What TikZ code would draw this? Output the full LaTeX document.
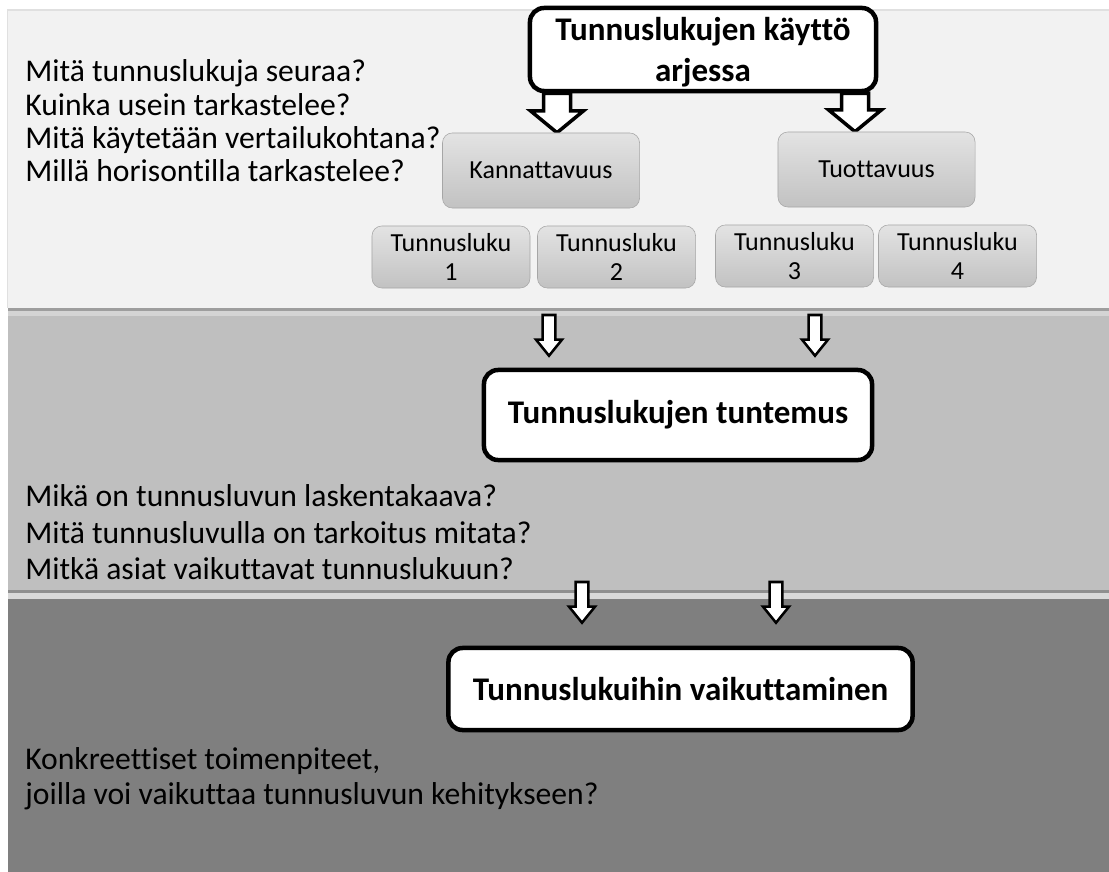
\documentclass[tikz,border=0pt]{standalone}
\usepackage{fontspec}
\setmainfont{Carlito}[Ligatures=NoCommon]
\usetikzlibrary{calc,backgrounds}
\definecolor{band1}{HTML}{F2F2F2}
\definecolor{band2}{HTML}{BFBFBF}
\definecolor{band3}{HTML}{7F7F7F}
\definecolor{bk60}{HTML}{A6A6A6}
\tikzset{
  bandrect/.style={fill=#1, draw=none},
  titlebox/.style={
    rectangle, rounded corners=10pt, draw=black, line width=3.2pt,
    fill=white, font=\fontsize{23.5}{29}\selectfont\bfseries,
    align=center, inner sep=2pt
  },
  subbox/.style={
    rectangle, rounded corners=7pt, draw=bk60, thin,
    top color=black!11, bottom color=black!24,
    font=\fontsize{18.5}{20.5}\selectfont, align=center,
    minimum width=3.95cm, minimum height=1.55cm, inner sep=2pt
  },
  questions/.style={
    anchor=west, align=left, font=\fontsize{22.5}{#1}\selectfont,
    inner sep=0pt
  },
  questions/.default=24pt,
  blockarrow/.style={draw=black, fill=white, line width=#1, line join=miter},
  blockarrow/.default=1.8pt,
}
% shaft half-width, head half-width, head length, from, to
\newcommand\blockarrow[6][1.8pt]{%
  \draw[blockarrow=#1] let \p1=(#5), \p2=(#6) in
    (\x1-#2,\y1) -- (\x1+#2,\y1) -- (\x1+#2,\y2+#4) -- (\x1+#3,\y2+#4)
    -- (\x1,\y2) -- (\x1-#3,\y2+#4) -- (\x1-#2,\y2+#4) -- cycle;}

\begin{document}
\begin{tikzpicture}[x=0.025cm, y=-0.025cm]
  \useasboundingbox (0,0) rectangle (1109,872);

  % boxes
  \node[titlebox, minimum width=8.65cm, minimum height=2.075cm, text depth=0pt] (use) at (703,49.5)
    {Tunnuslukujen käyttö\\arjessa};
  \node[subbox, minimum width=4.925cm, minimum height=1.875cm] (kan) at (541,170.5) {Kannattavuus};
  \node[subbox, minimum width=4.925cm, minimum height=1.875cm] (tuo) at (876.5,169.5) {Tuottavuus};
  \node[subbox] (t1) at (451,257) {Tunnusluku\\1};
  \node[subbox] (t2) at (616.5,257) {Tunnusluku\\2};
  \node[subbox] (t3) at (794.5,256) {Tunnusluku\\3};
  \node[subbox] (t4) at (957.5,256) {Tunnusluku\\4};
  \node[titlebox, minimum width=9.7cm, minimum height=2.25cm] (know) at (678,415)
    {Tunnuslukujen tuntemus};
  \node[titlebox, minimum width=11.6cm, minimum height=2.05cm] (act) at (680.5,689)
    {Tunnuslukuihin vaikuttaminen};

  % questions
  \node[questions=23.7pt] (q1) at (25,121)
    {Mitä tunnuslukuja seuraa?\\Kuinka usein tarkastelee?\\
     Mitä käytetään vertailukohtana?\\Millä horisontilla tarkastelee?};
  \node[questions=26pt] (q2) at (25,532.5)
    {Mikä on tunnusluvun laskentakaava?\\Mitä tunnusluvulla on tarkoitus mitata?\\
     Mitkä asiat vaikuttavat tunnuslukuun?};
  \node[questions=25pt] (q3) at (25,778.5)
    {Konkreettiset toimenpiteet,\\joilla voi vaikuttaa tunnusluvun kehitykseen?};

  \coordinate (a1) at (549,315);
  \coordinate (a2) at (815,315);
  \coordinate (b1) at (582,582);
  \coordinate (b2) at (776,582);

  \begin{scope}[on background layer]
    % bands
    \fill[white] (0,0) rectangle (1109,872);
    \fill[black!12] (7,9) rectangle (1109,308);
    \fill[bandrect=band1] (8,11) rectangle (1109,308);
    \fill[black!38] (8,308) rectangle (1109,311);
    \fill[black!17] (8,311) rectangle (1109,316);
    \fill[bandrect=band2] (8,316) rectangle (1109,590);
    \fill[black!44] (8,590) rectangle (1109,593);
    \fill[black!15] (8,593) rectangle (1109,599);
    \fill[bandrect=band3] (8,599) rectangle (1109,872);
    % arrows
    \blockarrow[2.5pt]{9.6pt}{18.9pt}{15.6pt}{557,0 |- use.south}{557,0 |- kan.north}
    \blockarrow[2.5pt]{9.6pt}{18.9pt}{15.6pt}{855,0 |- use.south}{855,0 |- tuo.north}
    \blockarrow{4.6pt}{9.2pt}{11.4pt}{a1}{$(a1 |- know.north)+(0,-12)$}
    \blockarrow{4.6pt}{9.2pt}{11.4pt}{a2}{$(a2 |- know.north)+(0,-12)$}
    \blockarrow{4.6pt}{9.2pt}{11.4pt}{b1}{$(b1 |- act.north)+(0,-23)$}
    \blockarrow{4.6pt}{9.2pt}{11.4pt}{b2}{$(b2 |- act.north)+(0,-23)$}
  \end{scope}
\end{tikzpicture}
\end{document}
